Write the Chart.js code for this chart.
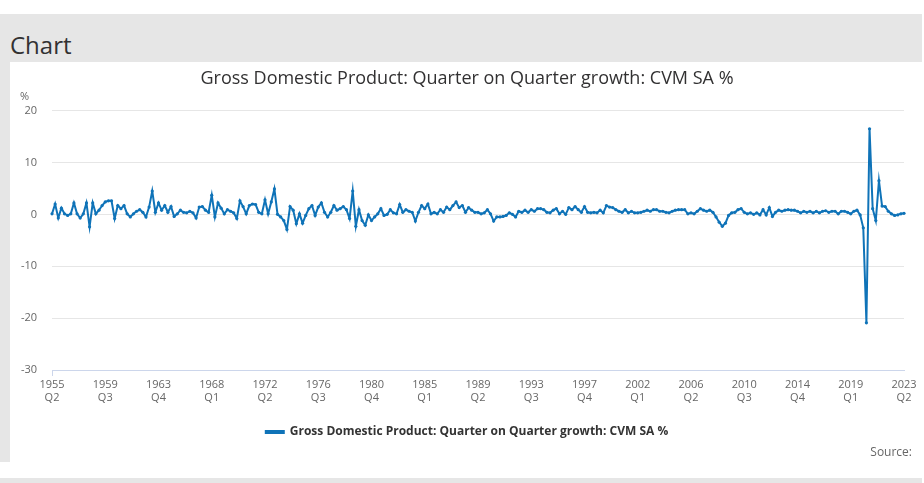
<!DOCTYPE html>
<html>
<head>
<meta charset="utf-8">
<title>GDP quarter on quarter growth</title>
<script src="https://cdn.jsdelivr.net/npm/chart.js@4/dist/chart.umd.min.js"></script>
<style>
    html, body { margin: 0; padding: 0; background: #fff; font-family: 'Open Sans', sans-serif; }
    #page { position: relative; width: 924px; height: 483px; overflow: hidden; }
    .grey { position: absolute; background: #e6e6e6; }
    #heading { position: absolute; left: 10px; top: 28px; font-size: 24px; color: #323132; line-height: 34px; }
    #unit { position: absolute; left: 20px; top: 88px; font-size: 11px; color: #666; }
    #source { position: absolute; right: 12px; top: 443px; font-size: 12px; color: #666; }
    #chart-box { position: absolute; left: 10px; top: 62px; width: 914px; height: 400px; }
</style>
</head>
<body>
<div id="page">
    <div class="grey" style="left:0; top:14px; width:922px; height:48px;"></div>
    <div class="grey" style="left:0; top:62px; width:10px; height:400px;"></div>
    <div class="grey" style="left:0; top:478px; width:922px; height:5px;"></div>
    <div id="heading">Chart</div>
    <div id="chart-box"><canvas id="gdp-chart" width="914" height="400"></canvas></div>
    <div id="unit">%</div>
    <div id="source">Source:</div>
</div>
<script>
// --- ข้อมูล ---
const SERIES_NAME = 'Gross Domestic Product: Quarter on Quarter growth: CVM SA %';
const START_YEAR = 1955;
const START_QUARTER = 2;

// ป้ายแกน X ทุก 17 ไตรมาส
const TICK_LABELS = [
    ['1955', 'Q2'], ['1959', 'Q3'], ['1963', 'Q4'], ['1968', 'Q1'], ['1972', 'Q2'],
    ['1976', 'Q3'], ['1980', 'Q4'], ['1985', 'Q1'], ['1989', 'Q2'], ['1993', 'Q3'],
    ['1997', 'Q4'], ['2002', 'Q1'], ['2006', 'Q2'], ['2010', 'Q3'], ['2014', 'Q4'],
    ['2019', 'Q1'], ['2023', 'Q2']
];
const TICK_EVERY = 17;

const Y_TICKS = [-30, -10, 0, 10, 20];

// ค่าการเติบโต (%) รายไตรมาส 1955 Q2 - 2023 Q2
const GROWTH = [
    0.1, 2.0, -0.7,            // 1955
    1.2, 0.1, -0.2, 0.1,       // 1956
    2.2, 0.1, -0.7, 0.1,       // 1957
    2.2, -2.4, 2.2, 0.1,       // 1958
    0.8, 1.7, 2.4, 2.6,        // 1959
    2.6, -0.8, 1.7, 1.1,       // 1960
    1.7, 0.1, -0.5, 0.1,       // 1961
    0.6, 0.9, 0.4, -0.5,       // 1962
    1.4, 4.5, 0.4, 2.2,        // 1963
    0.8, 1.7, 0.4, 1.5,        // 1964
    -0.4, 0.1, 0.8, 0.4,       // 1965
    0.3, 0.6, 0.3, -0.7,       // 1966
    1.4, 1.5, 0.8, 0.4,        // 1967
    3.7, -0.5, 2.2, 1.2,       // 1968
    0.1, 0.9, 0.6, 0.3,        // 1969
    -0.8, 2.6, 1.5, 0.1,       // 1970
    1.7, 2.0, 1.9, 0.4,        // 1971
    0.1, 2.8, 0.1, 2.4,        // 1972
    4.9, 0.0, -0.5, -1.2,      // 1973
    -2.9, 1.5, 0.8, -1.8,      // 1974
    0.1, -1.7, -0.2, 1.1,      // 1975
    1.7, -0.2, 1.4, 2.2,       // 1976
    0.4, -0.5, 0.4, 1.7,       // 1977
    0.8, 1.1, 1.5, 0.9,        // 1978
    -0.8, 4.5, -2.3, 0.9,      // 1979
    -1.2, -2.1, -0.1, -1.2,    // 1980
    -0.5, 0.1, 1.1, -0.2,      // 1981
    0.0, 0.9, 0.3, 0.1,        // 1982
    1.9, 0.4, 0.9, 0.6,        // 1983
    0.4, -1.3, 0.4, 1.7,       // 1984
    1.1, 2.0, 0.1, 0.4,        // 1985
    0.1, 0.9, 0.4, 1.4,        // 1986
    0.9, 1.7, 2.4, 1.3,        // 1987
    1.7, 0.4, 1.3, 0.8,        // 1988
    0.4, 0.4, 0.1, 0.3,        // 1989
    0.9, 0.1, -1.3, -0.5,      // 1990
    -0.5, -0.4, -0.2, 0.3,     // 1991
    0.0, -0.5, 0.6, 0.4,       // 1992
    0.8, 0.4, 0.9, 0.6,        // 1993
    1.1, 1.1, 0.9, 0.4,        // 1994
    0.3, 0.8, 1.1, 0.1,        // 1995
    0.6, 0.0, 1.3, 0.9,        // 1996
    1.5, 0.9, 0.4, 1.5,        // 1997
    0.4, 0.3, 0.4, 0.3,        // 1998
    0.8, 0.3, 1.7, 1.4,        // 1999
    1.3, 0.9, 0.6, 0.4,        // 2000
    0.9, 0.3, 0.6, 0.3,        // 2001
    0.3, 0.4, 0.6, 0.8,        // 2002
    0.6, 0.9, 0.9, 0.6,        // 2003
    0.6, 0.4, 0.3, 0.6,        // 2004
    0.8, 0.9, 0.9, 0.9,        // 2005
    0.1, 0.3, 0.1, 0.6,        // 2006
    1.1, 0.8, 0.6, 0.8,        // 2007
    0.4, -0.5, -1.5, -2.3,     // 2008
    -1.7, -0.2, 0.3, 0.4,      // 2009
    0.9, 1.1, 0.4, 0.1,        // 2010
    0.3, 0.0, 0.3, -0.1,       // 2011
    0.9, -0.1, 1.3, -0.4,      // 2012
    0.4, 0.8, 0.6, 0.8,        // 2013
    0.9, 0.8, 0.8, 0.6,        // 2014
    0.3, 0.6, 0.4, 0.6,        // 2015
    0.3, 0.6, 0.3, 0.6,        // 2016
    0.7, 0.4, 0.6, 0.6,        // 2017
    0.1, 0.6, 0.6, 0.4,        // 2018
    0.1, 0.6, 0.8, -0.1,       // 2019
    -2.6, -20.9, 16.5, 1.1,    // 2020
    -1.2, 6.5, 1.6, 1.5,       // 2021
    0.6, 0.1, -0.2, -0.1,      // 2022
    0.1, 0.2                   // 2023
];

const LINE_COLOR = '#0f73b8';
const TEXT_COLOR = '#666666';

// สร้างชื่อไตรมาสสำหรับแต่ละจุด
const quarterLabels = [];
let y = START_YEAR, q = START_QUARTER;
for (let i = 0; i < GROWTH.length; i++) {
    quarterLabels.push(y + ' Q' + q);
    q++;
    if (q > 4) { q = 1; y++; }
}

Chart.defaults.font.family = "'Open Sans', sans-serif";

const ctx = document.getElementById('gdp-chart').getContext('2d');
const gdpChart = new Chart(ctx, {
    type: 'line',
    data: {
        labels: quarterLabels,
        datasets: [{
            label: SERIES_NAME,
            data: GROWTH,
            borderColor: LINE_COLOR,
            backgroundColor: LINE_COLOR,
            borderWidth: 2,
            pointRadius: 1.6,
            pointBorderWidth: 0,
            pointBackgroundColor: LINE_COLOR,
            tension: 0
        }]
    },
    options: {
        responsive: false,
        animation: false,
        devicePixelRatio: 1,
        layout: { padding: { top: 0, right: 0, bottom: 14, left: 0 } },
        scales: {
            x: {
                type: 'category',
                offset: false,
                afterFit: scale => { scale.height = 46; },
                grid: {
                    drawOnChartArea: false,
                    drawTicks: true,
                    tickLength: 6,
                    tickColor: c => (c.index % TICK_EVERY === 0 ? '#ccd6eb' : 'rgba(0,0,0,0)')
                },
                border: { color: '#ccd6eb', width: 1 },
                ticks: {
                    autoSkip: false,
                    maxRotation: 0,
                    padding: 2,
                    color: TEXT_COLOR,
                    font: { size: 11 },
                    callback: (value, index) => (index % TICK_EVERY === 0 ? TICK_LABELS[index / TICK_EVERY] : null)
                }
            },
            y: {
                min: Y_TICKS[0],
                max: Y_TICKS[Y_TICKS.length - 1],
                afterFit: scale => { scale.width = 42; },
                grid: { color: '#e6e6e6', drawTicks: false },
                border: { display: false },
                ticks: {
                    stepSize: 10,
                    padding: 15,
                    color: TEXT_COLOR,
                    font: { size: 11 }
                }
            },
            // แกนว่างด้านขวา เพื่อเว้นที่ให้กราฟ (ชื่อกราฟยังอยู่กึ่งกลางทั้งกว้าง)
            yRight: {
                position: 'right',
                display: true,
                afterFit: scale => { scale.width = 20; },
                grid: { display: false },
                border: { display: false },
                ticks: { display: false }
            }
        },
        plugins: {
            title: {
                display: true,
                text: SERIES_NAME,
                color: '#323132',
                font: { size: 18, weight: 'normal' },
                padding: { top: 6, bottom: 21 }
            },
            legend: {
                position: 'bottom',
                labels: {
                    boxWidth: 18,
                    boxHeight: 2,
                    color: '#333333',
                    font: { size: 12, weight: 'bold' },
                    padding: 10
                }
            },
            tooltip: { enabled: false }
        }
    }
});
</script>
</body>
</html>
